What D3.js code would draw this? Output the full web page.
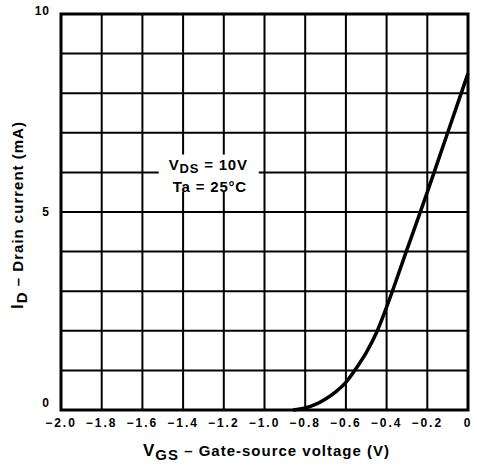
<!DOCTYPE html>
<meta charset="utf-8">
<head>
  <title>ID - VGS</title>
  <script src="https://d3js.org/d3.v7.min.js"></script>
  <style>
    body { margin: 0; background: #fff; }
    text { font-family: "Liberation Sans", Arial, sans-serif; font-weight: bold; fill: #000; }
  </style>
</head>
<body>
<svg width="477" height="476"></svg>
<script>
// gate-source voltage (V) and drain current (mA)
var vgs = [-0.86, -0.8, -0.75, -0.7, -0.65, -0.6, -0.55, -0.5, -0.45, -0.4, -0.3, -0.2, -0.1, 0];
var idr = [0, 0.05, 0.14, 0.28, 0.46, 0.7, 1.05, 1.45, 1.95, 2.6, 4.05, 5.5, 7.0, 8.5];

var xTicks = [-2.0, -1.8, -1.6, -1.4, -1.2, -1.0, -0.8, -0.6, -0.4, -0.2, 0];
var xTickLabels = ["\u22122.0", "\u22121.8", "\u22121.6", "\u22121.4", "\u22121.2", "\u22121.0", "\u22120.8", "\u22120.6", "\u22120.4", "\u22120.2", "0"];
var yGrid = d3.range(0, 11);
var yTicks = [0, 5, 10];

var svg = d3.select("svg"),
    margin = {top: 14, right: 9, bottom: 66, left: 61},
    width = +svg.attr("width") - margin.left - margin.right,
    height = +svg.attr("height") - margin.top - margin.bottom,
    g = svg.append("g").attr("transform", "translate(" + margin.left + "," + margin.top + ")");

var x = d3.scaleLinear().domain([-2, 0]).range([0, width]);
var y = d3.scaleLinear().domain([0, 10]).range([height, 0]);

// grid
g.append("g")
  .selectAll("line")
  .data(xTicks)
  .enter().append("line")
  .attr("x1", function(d) { return x(d); })
  .attr("x2", function(d) { return x(d); })
  .attr("y1", 0).attr("y2", height)
  .attr("stroke", "#000").attr("stroke-width", 2);

g.append("g")
  .selectAll("line")
  .data(yGrid)
  .enter().append("line")
  .attr("y1", function(d) { return y(d); })
  .attr("y2", function(d) { return y(d); })
  .attr("x1", 0).attr("x2", width)
  .attr("stroke", "#000").attr("stroke-width", 2);

// frame
g.append("rect")
  .attr("width", width).attr("height", height)
  .attr("fill", "none").attr("stroke", "#000").attr("stroke-width", 3);

// white box behind the note
g.append("rect")
  .attr("x", x(-1.5) - 4).attr("y", y(6.45))
  .attr("width", 100).attr("height", 37)
  .attr("fill", "#fff");

// curve
var line = d3.line()
  .x(function(d, i) { return x(vgs[i]); })
  .y(function(d) { return y(d); })
  .curve(d3.curveMonotoneX);

g.append("path")
  .datum(idr)
  .attr("d", line)
  .attr("fill", "none")
  .attr("stroke", "#000")
  .attr("stroke-width", 3.5);

// x tick labels
g.append("g")
  .selectAll("text")
  .data(xTicks)
  .enter().append("text")
  .attr("x", function(d) { return x(d); })
  .attr("y", height + 17)
  .attr("text-anchor", "middle")
  .attr("font-size", 12)
  .attr("letter-spacing", 2)
  .text(function(d, i) { return xTickLabels[i]; });

// y tick labels
g.append("g")
  .selectAll("text")
  .data(yTicks)
  .enter().append("text")
  .attr("x", -11)
  .attr("y", function(d) { return y(d) + (d == 5 ? 4 : d == 10 ? 1 : -3); })
  .attr("text-anchor", "end")
  .attr("font-size", 12)
  .attr("letter-spacing", 1)
  .text(function(d) { return d; });

// note
var note = g.append("g").attr("font-size", 15).attr("letter-spacing", 0.8);
var t1 = note.append("text").attr("x", x(-1.5) + 6).attr("y", y(6.05));
t1.append("tspan").text("V");
t1.append("tspan").attr("font-size", 13).attr("dy", 3).text("DS");
t1.append("tspan").attr("dy", -3).text(" = 10V");
note.append("text").attr("x", x(-1.5) + 10).attr("y", y(5.5)).text("Ta = 25\u00b0C");

// axis titles
var xt = svg.append("text")
  .attr("x", margin.left + width / 2 + 2)
  .attr("y", 456)
  .attr("text-anchor", "middle")
  .attr("font-size", 15)
  .attr("letter-spacing", 1);
xt.append("tspan").attr("font-size", 17).text("V");
xt.append("tspan").attr("font-size", 15).attr("dy", 4).text("GS");
xt.append("tspan").attr("dy", -4).text(" \u2013 Gate-source voltage (V)");

var yt = svg.append("text")
  .attr("transform", "translate(23," + (margin.top + height / 2 + 3) + ") rotate(-90)")
  .attr("text-anchor", "middle")
  .attr("font-size", 15)
  .attr("letter-spacing", 1);
yt.append("tspan").attr("font-size", 17).text("I");
yt.append("tspan").attr("font-size", 15).attr("dy", 4).text("D");
yt.append("tspan").attr("dy", -4).text(" \u2013 Drain current (mA)");
</script>
</body>
